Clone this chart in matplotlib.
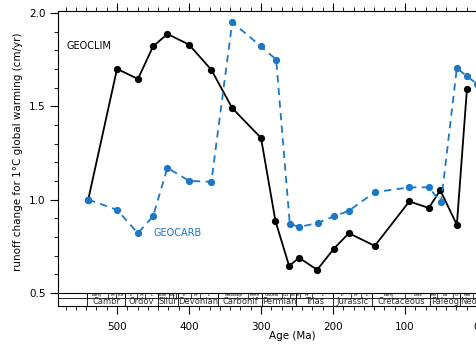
import matplotlib
matplotlib.use("Agg")
import matplotlib.pyplot as plt
from matplotlib.ticker import MultipleLocator

# GEOCLIM (black, solid)
ages_clim = [540, 500, 471, 450, 430, 400, 369, 340, 300, 280, 261, 247, 222, 199, 178, 142, 94, 67, 51, 28, 14]
clim = [1.00, 1.70, 1.646, 1.82, 1.887, 1.83, 1.695, 1.49, 1.33, 0.886, 0.645, 0.688, 0.624,
        0.736, 0.82, 0.752, 0.99, 0.955, 1.05, 0.865, 1.59]

# GEOCARB (blue, dashed)
ages_carb = [540, 500, 471, 450, 430, 400, 369, 340, 300, 279, 260, 247, 221, 199, 178, 142, 94, 67, 50, 28, 14, 0]
carb = [1.0, 0.945, 0.82, 0.91, 1.17, 1.10, 1.095, 1.95, 1.82, 1.75, 0.87, 0.853, 0.875,
        0.91, 0.94, 1.04, 1.065, 1.066, 0.985, 1.705, 1.66, 1.62]

# geologic time scale (Ma)
periods = ["Cambr", "Ordov", "Silur", "Devonian", "Carbonif", "Permian", "Trias",
           "Jurassic", "Cretaceous", "Paleog", "Neo"]
period_bounds = [542, 488.3, 443.7, 416, 359.2, 299, 251, 199.6, 145.5, 65.5, 23.03, 0]
epochs = ["Early", "M", "Fur", "E", "M", "L", "Llan", "W", "L", "", "E", "M", "L",
          "Mississip", "Penn", "Cisural", "Gu", "Lo", "E", "M", "L", "E", "M", "L",
          "Early", "Late", "Pal", "Eo", "Ol", "Mio", ""]
epoch_bounds = [542, 513, 501, 488.3, 471.8, 460.9, 443.7, 428.2, 422.9, 418.7, 416,
                397.5, 385.3, 359.2, 318.1, 299, 270.6, 260.4, 251, 245.9, 228.7, 199.6,
                175.6, 161.2, 145.5, 99.6, 65.5, 55.8, 33.9, 23.03, 5.33, 0]

blue = "#1a78c6"

fig = plt.figure(figsize=(4.77, 3.52), dpi=100)
ax = fig.add_axes([58 / 477, 1 - 306 / 352, 1 - 58 / 477, (306 - 11) / 352])

ax.plot(ages_clim, clim, color="black", lw=1.3, marker="o", ms=4.2, zorder=3)
ax.plot(ages_carb, carb, color=blue, lw=1.3, ls=(0, (4, 3)), marker="o", ms=4.2, zorder=4)

ax.text(570, 1.82, "GEOCLIM", fontsize=7, color="black", va="center")
ax.text(450, 0.82, "GEOCARB", fontsize=7, color=blue, va="center")

ax.set_xlim(582, 0)
ax.set_ylim(0.43, 2.01)

# time scale band
y_top, y_mid, y_bot = 0.5, 0.473, 0.43
ax.axhline(y_top, color="black", lw=0.8)
ax.axhline(y_mid, color="black", lw=0.6)
for b in period_bounds[:-1]:
    ax.plot([b, b], [y_bot, y_top], color="black", lw=0.6)
for b in epoch_bounds[:-1]:
    ax.plot([b, b], [y_mid, y_top], color="black", lw=0.5)
for i, name in enumerate(periods):
    xc = (period_bounds[i] + period_bounds[i + 1]) / 2
    ax.text(xc, (y_bot + y_mid) / 2, name, fontsize=6, color="#333333",
            ha="center", va="center", clip_on=True)
for i, name in enumerate(epochs):
    xc = (epoch_bounds[i] + epoch_bounds[i + 1]) / 2
    ax.text(xc, (y_mid + y_top) / 2, name, fontsize=3, color="black",
            ha="center", va="center", clip_on=True)

ax.set_yticks([0.5, 1.0, 1.5, 2.0])
ax.yaxis.set_minor_locator(MultipleLocator(0.1))
ax.xaxis.set_major_locator(MultipleLocator(100))
ax.xaxis.set_minor_locator(MultipleLocator(100 / 7))
ax.tick_params(axis="both", which="major", direction="out", length=5.5, width=0.8, labelsize=7.5)
ax.tick_params(axis="both", which="minor", direction="out", length=2.8, width=0.6)
ax.tick_params(axis="x", which="both", top=True)
ax.tick_params(axis="x", which="major", pad=6)

for s in ax.spines.values():
    s.set_linewidth(0.8)

fig.text(292 / 477, 1 - 336 / 352, "Age (Ma)", fontsize=7.5, ha="center", va="center")
fig.text(18 / 477, 1 - 152 / 352, "runoff change for 1°C global warming (cm/yr)",
         fontsize=7.5, rotation=90, ha="center", va="center")

fig.savefig("out.png", dpi=100)
